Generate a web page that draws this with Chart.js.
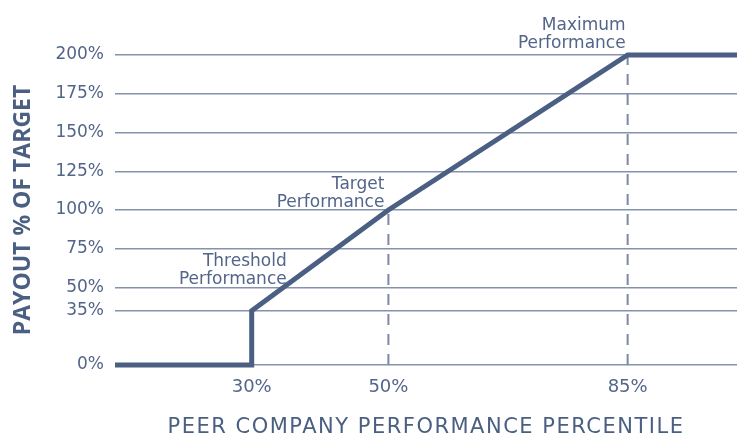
<!DOCTYPE html>
<html>
<head>
<meta charset="utf-8">
<script src="https://cdn.jsdelivr.net/npm/chart.js@4/dist/chart.umd.min.js"></script>
<style>
  html, body { margin: 0; padding: 0; background: #fff; }
  #wrap { width: 737px; height: 435px; }
</style>
</head>
<body>
<div id="wrap"><canvas id="myChart"></canvas></div>
<script>
// payout curve (percentile -> payout %)
const percentiles = [10, 30, 30, 50, 85, 101];
const payouts = [0, 0, 35, 100, 200, 200];

// dashed guides drop from the curve to 0%
const guideX = [50, 85];
const guideTop = [100, 200];

const xTicks = [30, 50, 85];
const yTicks = [0, 35, 50, 75, 100, 125, 150, 175, 200];

// labels at the three kink points
const noteX = [30, 50, 85];
const noteY = [35, 100, 200];
const noteText = [
  ['Threshold', 'Performance'],
  ['Target', 'Performance'],
  ['Maximum', 'Performance']
];

const NAVY = '#4a5f82';
const GRID = '#8592ad';
const TEXT = '#53658a';
const FONT = "'DejaVu Sans', sans-serif";

const datasets = [{
  data: percentiles.map((p, i) => ({x: p, y: payouts[i]})),
  borderColor: NAVY,
  borderWidth: 5,
  borderJoinStyle: 'miter',
  pointRadius: 0,
  clip: false,
  order: 0
}];
guideX.forEach((gx, i) => {
  datasets.push({
    data: [{x: gx, y: 0}, {x: gx, y: guideTop[i]}],
    borderColor: '#7d87a6',
    borderWidth: 2,
    borderDash: [11, 9],
    pointRadius: 0,
    order: 1
  });
});

const notes = {
  id: 'notes',
  afterDatasetsDraw(chart) {
    const ctx = chart.ctx;
    const xs = chart.scales.x, ys = chart.scales.y;
    // pixel nudges for each note (right edge, baseline of last line)
    const off = [[35, -27], [-4, -3], [-2, -7]];
    ctx.save();
    ctx.font = '17px ' + FONT;
    ctx.fillStyle = TEXT;
    ctx.textAlign = 'right';
    ctx.textBaseline = 'alphabetic';
    noteText.forEach((lines, i) => {
      const px = xs.getPixelForValue(noteX[i]) + off[i][0];
      const py = ys.getPixelForValue(noteY[i]) + off[i][1];
      lines.forEach((t, j) => {
        ctx.fillText(t, px, py - (lines.length - 1 - j) * 18);
      });
    });
    ctx.restore();
    // the x axis (drawn on the upper layer) uses wider tracking
    ctx.letterSpacing = '1.5px';
  },
  afterDraw(chart) {
    chart.ctx.letterSpacing = '0px';
  }
};

const config = {
  type: 'line',
  data: { datasets: datasets },
  options: {
    responsive: true,
    maintainAspectRatio: false,
    animation: false,
    layout: { padding: { top: 55, right: 0, bottom: 0, left: 0 } },
    plugins: {
      legend: { display: false },
      tooltip: { enabled: false }
    },
    scales: {
      x: {
        type: 'linear',
        min: 10,
        max: 101,
        z: 1,
        afterBuildTicks: (s) => { s.ticks = xTicks.map(v => ({value: v})); },
        afterFit: (s) => { s.height = 70; },
        grid: { display: false, drawTicks: false, z: 1 },
        border: { display: false },
        ticks: {
          autoSkip: false,
          maxRotation: 0,
          padding: 12,
          color: TEXT,
          font: { family: FONT, size: 18 },
          callback: (v) => v + '%'
        },
        title: {
          display: true,
          text: 'PEER COMPANY PERFORMANCE PERCENTILE',
          color: NAVY,
          font: { family: FONT, size: 21, lineHeight: 0.7 },
          padding: { top: 0, bottom: 0 }
        }
      },
      y: {
        min: 0,
        max: 200,
        afterBuildTicks: (s) => { s.ticks = yTicks.map(v => ({value: v})); },
        afterFit: (s) => { s.width = 115; },
        grid: { color: GRID, lineWidth: 1.5, drawTicks: false },
        border: { display: false },
        ticks: {
          autoSkip: false,
          padding: 11,
          color: TEXT,
          font: { family: FONT, size: 17 },
          callback: (v) => v + '%'
        },
        title: {
          display: true,
          text: 'PAYOUT % OF TARGET',
          color: NAVY,
          font: { family: "'Open Sans', sans-serif", size: 23, weight: 'bold', lineHeight: 1 },
          padding: { top: 12, bottom: 0 }
        }
      }
    }
  },
  plugins: [notes]
};

const myChart = new Chart(document.getElementById('myChart'), config);
</script>
</body>
</html>
